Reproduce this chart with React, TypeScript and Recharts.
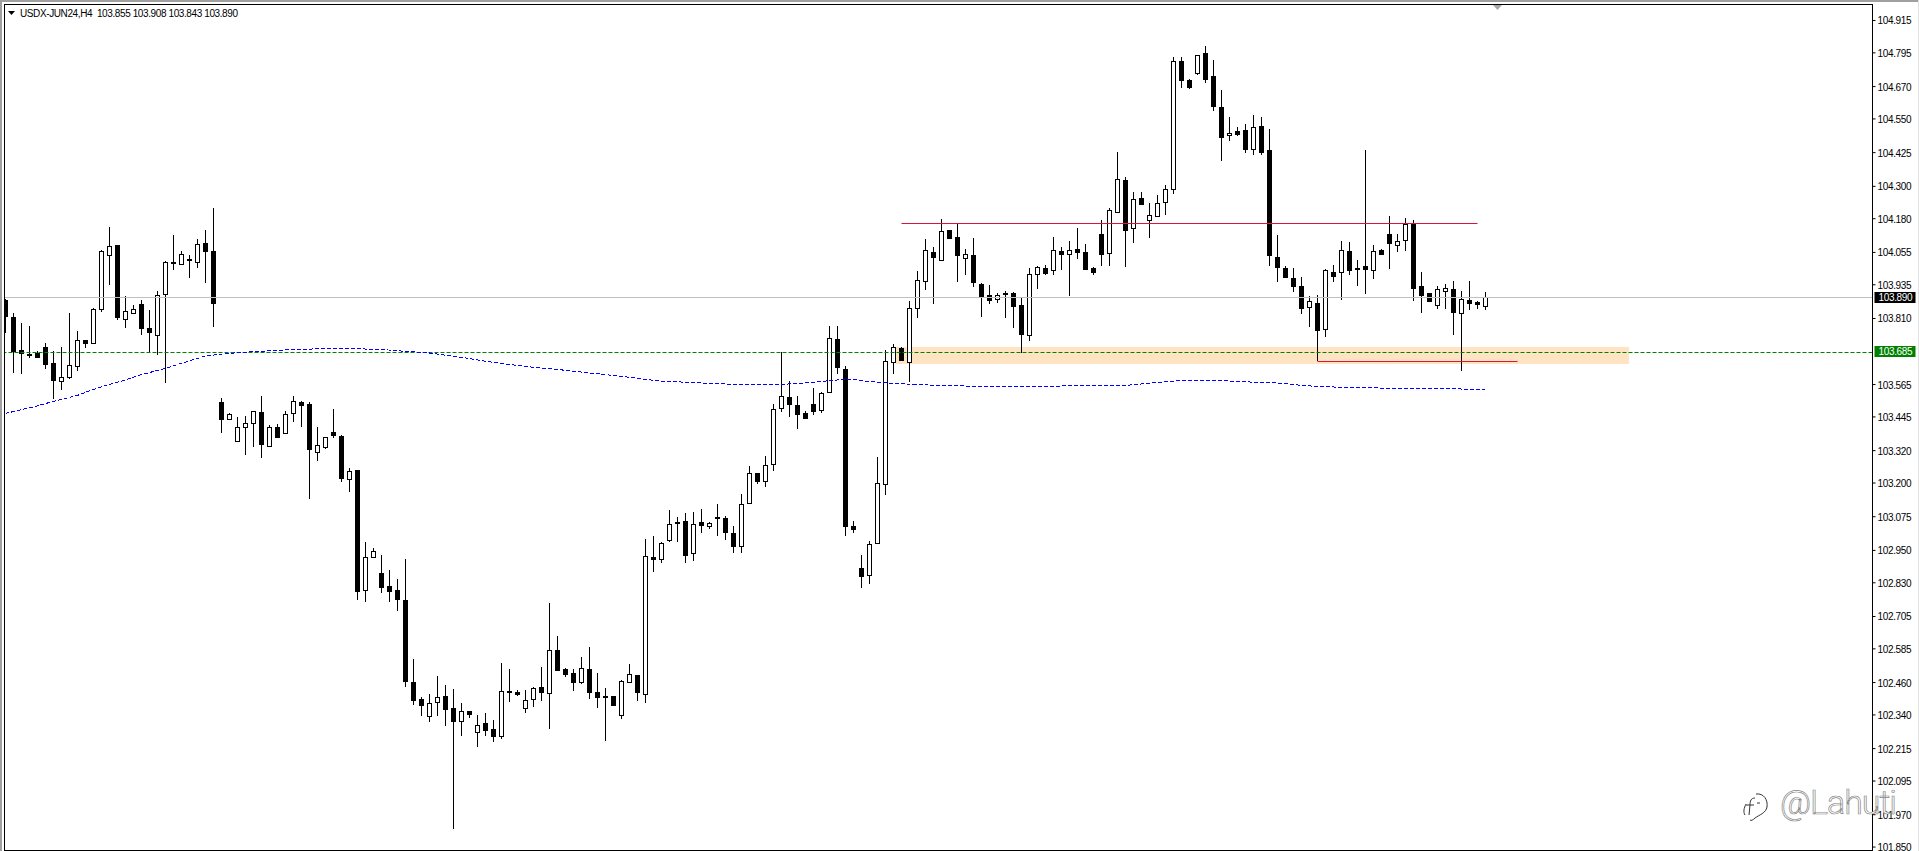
import { Bar, ComposedChart, Line, ReferenceArea, ReferenceLine, XAxis, YAxis } from 'recharts'

const SYMBOL = 'USDX-JUN24,H4'

const OPENS = [
  103.879,103.816,103.693,103.678,103.683,103.704,103.644,103.580,103.594,103.635,103.730,103.720,103.846,104.047,104.083,103.809,103.832,103.864,103.775,103.750,103.902,104.020,104.013,104.031,104.021,104.090,104.060,
  103.499,103.439,103.357,103.406,103.421,103.462,103.339,103.406,103.384,103.458,103.499,103.492,103.314,103.335,103.388,103.374,103.214,103.248,102.805,102.927,102.865,102.817,102.802,102.765,102.461,102.398,102.335,102.387,102.409,102.365,102.316,102.353,102.276,102.309,102.287,102.263,102.428,102.424,102.365,102.398,102.442,102.420,102.580,102.509,102.494,102.461,102.509,102.424,102.409,102.409,102.339,102.461,102.487,102.416,102.924,102.920,102.990,103.055,
  103.058,102.940,103.055,103.039,103.073,103.069,103.014,102.966,103.125,103.236,103.207,103.270,103.477,103.518,103.488,103.459,103.492,103.470,103.537,103.733,103.622,103.040,102.884,102.858,102.977,103.195,103.648,103.700,
  103.650,103.848,103.948,104.056,104.026,104.137,104.111,104.036,104.044,103.937,103.896,103.881,103.904,103.904,103.859,103.748,103.974,103.996,103.989,104.059,104.048,104.067,104.056,103.996,104.122,104.052,104.206,104.323,104.145,104.256,104.174,104.189,104.241,104.289,104.764,104.693,104.719,104.793,104.708,104.593,104.489,104.504,104.508,104.438,104.523,
  104.434,104.037,103.996,103.959,103.929,103.851,103.866,103.770,103.981,103.981,104.059,103.996,104.003,103.989,104.063,104.122,104.081,104.100,104.160,103.929,103.903,103.859,103.911,103.918,103.829,103.877,103.870,103.855,
]
const HIGHS = [
  103.881,103.829,103.795,103.782,103.691,103.718,103.688,103.703,103.829,103.762,103.730,103.848,104.064,104.148,104.083,103.893,103.860,103.879,103.842,103.911,104.023,104.120,104.060,104.044,104.105,104.138,104.218,
  103.514,103.460,103.444,103.449,103.466,103.523,103.414,103.418,103.466,103.523,103.503,103.499,103.406,103.369,103.474,103.377,103.254,103.248,102.980,102.958,102.932,102.876,102.843,102.917,102.546,102.405,102.416,102.483,102.450,102.435,102.383,102.353,102.339,102.346,102.320,102.531,102.509,102.431,102.431,102.442,102.517,102.754,102.632,102.513,102.509,102.554,102.591,102.494,102.439,102.409,102.471,102.528,102.487,102.991,103.002,102.980,103.099,103.073,
  103.088,103.092,103.103,103.055,103.121,103.077,103.040,103.158,103.262,103.236,103.299,103.492,103.685,103.577,103.522,103.466,103.551,103.537,103.781,103.781,103.633,103.058,102.932,102.984,103.296,103.692,103.715,103.703,
  103.874,103.985,104.104,104.074,104.178,104.137,104.163,104.067,104.108,103.943,103.933,103.904,103.911,103.907,103.889,103.996,104.004,104.007,104.111,104.074,104.096,104.145,104.085,104.000,104.174,104.219,104.426,104.334,104.278,104.278,104.237,104.267,104.304,104.779,104.779,104.697,104.786,104.819,104.768,104.656,104.556,104.519,104.530,104.564,104.556,
  104.511,104.118,104.003,103.996,103.963,103.892,103.896,103.992,104.007,104.096,104.092,104.026,104.434,104.081,104.066,104.189,104.122,104.181,104.174,103.981,103.903,103.929,103.937,103.948,103.911,103.948,103.874,103.908,
]
const LOWS = [
  103.757,103.609,103.604,103.662,103.664,103.624,103.513,103.545,103.587,103.617,103.701,103.720,103.835,103.934,103.804,103.775,103.827,103.750,103.683,103.676,103.572,103.990,104.013,103.960,103.997,103.943,103.780,
  103.387,103.439,103.353,103.305,103.335,103.294,103.335,103.368,103.384,103.426,103.409,103.142,103.283,103.327,103.368,103.205,103.168,102.766,102.760,102.923,102.793,102.760,102.727,102.445,102.378,102.337,102.315,102.337,102.300,101.918,102.263,102.330,102.222,102.263,102.241,102.252,102.389,102.412,102.348,102.371,102.393,102.289,102.504,102.482,102.430,102.456,102.400,102.367,102.245,102.374,102.326,102.461,102.393,102.386,102.871,102.905,102.983,102.983,
  102.905,102.909,103.016,103.031,103.005,102.987,102.942,102.942,103.125,103.198,103.187,103.246,103.465,103.443,103.402,103.439,103.454,103.461,103.537,103.606,103.005,103.016,102.809,102.827,102.977,103.157,103.606,103.654,
  103.576,103.813,103.917,103.862,104.022,104.106,103.947,103.973,103.928,103.817,103.865,103.869,103.813,103.773,103.681,103.728,103.921,103.973,103.973,103.988,103.895,104.032,103.991,103.973,104.006,104.006,104.203,104.002,104.091,104.229,104.110,104.185,104.192,104.273,104.666,104.662,104.712,104.685,104.581,104.395,104.470,104.488,104.425,104.418,104.418,
  104.006,103.947,103.961,103.909,103.828,103.780,103.651,103.743,103.947,103.880,103.972,103.932,103.902,103.958,104.047,103.995,104.058,104.061,103.876,103.832,103.872,103.846,103.846,103.750,103.617,103.843,103.846,103.843,
]
const CLOSES = [
  103.817,103.686,103.678,103.676,103.664,103.639,103.580,103.592,103.636,103.729,103.715,103.844,104.059,104.078,103.812,103.837,103.844,103.772,103.757,103.896,104.018,104.017,104.048,104.024,104.085,104.058,103.864,
  103.435,103.455,103.406,103.421,103.466,103.342,103.406,103.368,103.455,103.503,103.487,103.324,103.340,103.369,103.374,103.216,103.243,102.797,102.924,102.947,102.812,102.797,102.767,102.463,102.393,102.374,102.383,102.405,102.360,102.315,102.353,102.341,102.304,102.282,102.260,102.428,102.423,102.415,102.394,102.439,102.423,102.580,102.504,102.489,102.460,102.513,102.423,102.404,102.408,102.374,102.465,102.491,102.423,102.928,102.916,102.976,103.047,103.053,
  102.931,103.047,103.042,103.051,103.068,103.013,102.961,103.121,103.236,103.202,103.266,103.474,103.522,103.491,103.454,103.439,103.465,103.533,103.737,103.628,103.035,103.027,102.853,102.973,103.199,103.652,103.703,103.654,
  103.848,103.952,104.063,104.033,104.133,104.106,104.040,104.048,103.943,103.891,103.876,103.896,103.899,103.854,103.750,103.974,104.000,103.976,104.063,104.047,104.063,104.051,103.991,103.980,104.047,104.211,104.326,104.136,104.252,104.229,104.193,104.237,104.289,104.764,104.692,104.666,104.786,104.696,104.596,104.481,104.497,104.491,104.433,104.519,104.425,
  104.043,103.998,103.961,103.928,103.846,103.874,103.765,103.989,103.965,104.063,103.987,103.991,103.991,104.059,104.047,104.087,104.096,104.159,103.921,103.895,103.872,103.918,103.922,103.832,103.881,103.865,103.861,103.890,
]

// moving average, read at the bars where the curve could be measured
const MA_BARS = [0,4,6,9,11,13,15,17,20,22,24,25,27,29,31,34,37,40,44,48,50,53,57,61,65,69,74,78,82,84,87,91,95,99,101,104,106,107,109,111,114,118,124,130,140,143,146,147,152,155,159,162,164,167,174,181,185]
const MA_VALUES = [103.458,103.486,103.503,103.525,103.547,103.566,103.582,103.602,103.625,103.644,103.662,103.671,103.678,103.683,103.687,103.692,103.696,103.698,103.698,103.693,103.688,103.682,103.666,103.647,103.632,103.621,103.605,103.592,103.577,103.575,103.571,103.566,103.565,103.568,103.574,103.582,103.585,103.579,103.574,103.569,103.565,103.560,103.559,103.559,103.562,103.570,103.578,103.581,103.580,103.575,103.571,103.562,103.558,103.555,103.551,103.549,103.547]

const PRICE_TICKS = [104.915,104.795,104.67,104.55,104.425,104.3,104.18,104.055,103.935,103.81,103.565,103.445,103.32,103.2,103.075,102.95,102.83,102.705,102.585,102.46,102.34,102.215,102.095,101.97,101.85]

const BID = 103.89
const LEVEL = 103.685
const RESISTANCE = 104.163
const SUPPORT = 103.651
const ZONE_TOP = 103.704
const ZONE_BOTTOM = 103.641

const FONT = '"Liberation Sans", sans-serif'

const rows = OPENS.map((open, i) => {
  const maAt = MA_BARS.indexOf(i)
  return {
    bar: i,
    open,
    high: HIGHS[i],
    low: LOWS[i],
    close: CLOSES[i],
    range: [LOWS[i], HIGHS[i]],
    ma: maAt >= 0 ? MA_VALUES[maAt] : null,
  }
})

function Candle(props: any) {
  const { x, y, width, height, payload } = props
  const { open, high, low, close } = payload
  const perUnit = height / (high - low)
  const py = (v: number) => Math.round(y + (high - v) * perUnit)
  const cx = Math.floor(x + width / 2) + 0.5
  const top = py(Math.max(open, close))
  const bottom = py(Math.min(open, close))
  const up = close > open
  return (
    <g>
      <line x1={cx} x2={cx} y1={py(high)} y2={py(low)} stroke="#000" strokeWidth={1} />
      {up ? (
        <rect x={cx - 2} y={top + 0.5} width={4} height={Math.max(bottom - top, 1)} fill="#fff" stroke="#000" strokeWidth={1} />
      ) : (
        <rect x={cx - 2.5} y={top} width={5} height={Math.max(bottom - top, 2)} fill="#000" />
      )}
    </g>
  )
}

// keep horizontal levels on a whole pixel row like the terminal does
function SnapLine({ x1, y1, x2, y2, stroke, strokeDasharray }: any) {
  const row = Math.round(y1) + 0.5
  return <line x1={x1} x2={x2} y1={row} y2={Math.round(y2) + 0.5} stroke={stroke} strokeDasharray={strokeDasharray} strokeWidth={1} />
}

function PriceTick({ x, y, payload }: any) {
  return (
    <text x={x} y={Math.round(y) + 4} fill="#000" fontSize={10} letterSpacing={-0.35} fontFamily={FONT}>
      {payload.value.toFixed(3)}
    </text>
  )
}

function PriceTag({ viewBox, bg, text, shift = 0 }: any) {
  const mid = Math.round(viewBox.y) + shift
  const left = viewBox.x + viewBox.width + 2
  return (
    <g>
      <rect x={left} y={mid - 5} width={41} height={11} fill={bg} />
      <text x={left + 4} y={mid + 4} fill="#fff" fontSize={10} letterSpacing={-0.35} fontFamily={FONT}>
        {text}
      </text>
    </g>
  )
}

// window frame, header line and the watermark sit over the chart
function Overlay() {
  return (
    <svg width={1919} height={851} style={{ position: 'absolute', left: 0, top: 0, pointerEvents: 'none' }}>
      <rect x={0} y={0} width={1919} height={2} fill="#a0a0a0" />
      <rect x={0} y={0} width={2} height={851} fill="#a0a0a0" />
      <rect x={1918} y={0} width={1} height={851} fill="#e0e0e0" />
      <rect x={2} y={2} width={2} height={849} fill="#fff" />
      <rect x={4} y={4} width={1869} height={1} fill="#000" />
      <rect x={4} y={4} width={1} height={847} fill="#000" />
      <rect x={4} y={850} width={1869} height={1} fill="#000" />
      <polygon points="1493,5 1502,5 1497.5,10" fill="#a8a8a8" />
      <polygon points="8,11 15,11 11.5,15" fill="#000" />
      <text x={20} y={16.5} fontSize={10} fontFamily={FONT} fill="#000" xmlSpace="preserve" textLength={218}>
        {`${SYMBOL}  ${OPENS[185].toFixed(3)} ${HIGHS[185].toFixed(3)} ${LOWS[185].toFixed(3)} ${CLOSES[185].toFixed(3)}`}
      </text>
      <path
        d="M1756 794 C1764 793 1768 800 1767 807 C1766 813 1759 815 1755 818 C1753 820 1751 821 1750 820 M1746 804 C1744 808 1743 812 1745 815 M1755 798 C1751 798 1750 801 1750 805 L1749 815 M1746 805 L1754 805 M1757 803 L1760 803"
        fill="none"
        stroke="#333"
        strokeWidth={1}
      />
      <text x={1780} y={814} fontSize={34} fontFamily="Roboto, sans-serif" fontWeight={300} fill="#fff" stroke="#888" strokeWidth={0.7} textLength={117}>
        @Lahuti
      </text>
    </svg>
  )
}

export default function App() {
  return (
    <div style={{ position: 'absolute', left: 0, top: 0, width: 1919, height: 851, background: '#fff', overflow: 'hidden' }}>
      <ComposedChart width={1919} height={851} data={rows} margin={{ top: 4.5, right: 0, bottom: 0.5, left: 0 }}>
        <XAxis dataKey="bar" type="number" domain={[-0.6875, 233.375]} allowDataOverflow hide />
        <YAxis
          orientation="right"
          type="number"
          width={46.5}
          domain={[101.8373, 104.9743]}
          allowDataOverflow
          ticks={PRICE_TICKS}
          interval={0}
          tickSize={3}
          tickMargin={2}
          axisLine={{ stroke: '#000' }}
          tickLine={{ stroke: '#000' }}
          tick={<PriceTick />}
        />
        <ReferenceArea x1={111.3} x2={202.94} y1={ZONE_BOTTOM} y2={ZONE_TOP} fill="#ffe4c4" fillOpacity={1} stroke="none" />
        <ReferenceLine y={BID} stroke="#c0c0c0" shape={<SnapLine />} label={<PriceTag bg="#000" text={BID.toFixed(3)} />} />
        <ReferenceLine y={LEVEL} stroke="#008000" strokeDasharray="4 2" shape={<SnapLine />} label={<PriceTag bg="#008000" shift={-1} text={LEVEL.toFixed(3)} />} />
        <ReferenceLine segment={[{ x: 112, y: RESISTANCE }, { x: 184, y: RESISTANCE }]} stroke="#dc143c" shape={<SnapLine />} />
        <ReferenceLine segment={[{ x: 164, y: SUPPORT }, { x: 189, y: SUPPORT }]} stroke="#dc143c" shape={<SnapLine />} />
        <Line dataKey="ma" stroke="#0000ff" strokeWidth={1} strokeDasharray="4 2" shapeRendering="crispEdges" dot={false} connectNulls isAnimationActive={false} />
        <Bar dataKey="range" barSize={8} shape={<Candle />} isAnimationActive={false} />
      </ComposedChart>
      <Overlay />
    </div>
  )
}
